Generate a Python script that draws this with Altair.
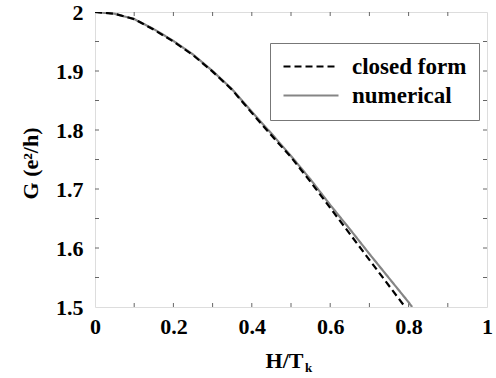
import altair as alt
import pandas as pd

# ---- data ----
x_closed = [0.0, 0.05, 0.1, 0.15, 0.2, 0.25, 0.3, 0.35, 0.4, 0.45, 0.5, 0.55, 0.6, 0.65, 0.7, 0.75, 0.791]
g_closed = [2.000, 1.997, 1.988, 1.970, 1.950, 1.927, 1.899, 1.868, 1.829, 1.791, 1.754, 1.712, 1.668, 1.624, 1.580, 1.536, 1.500]

x_num = [0.0, 0.05, 0.1, 0.15, 0.2, 0.25, 0.3, 0.35, 0.4, 0.45, 0.5, 0.55, 0.6, 0.65, 0.7, 0.75, 0.8, 0.809]
g_num = [2.000, 1.997, 1.988, 1.971, 1.951, 1.928, 1.900, 1.869, 1.831, 1.794, 1.756, 1.716, 1.673, 1.632, 1.590, 1.549, 1.508, 1.500]

series_names = ["closed form", "numerical"]

x_tick_labels = [0, 0.2, 0.4, 0.6, 0.8, 1]
y_tick_labels = [1.5, 1.6, 1.7, 1.8, 1.9, 2.0]
x_minor = [0.1, 0.2, 0.3, 0.4, 0.5, 0.6, 0.7, 0.8, 0.9]
y_minor = [1.55, 1.6, 1.65, 1.7, 1.75, 1.8, 1.85, 1.9, 1.95]

W, H = 392, 295
FONT = "Liberation Serif"

df = pd.concat([
    pd.DataFrame({"x": x_num, "g": g_num, "series": series_names[1], "o": range(len(x_num))}),
    pd.DataFrame({"x": x_closed, "g": g_closed, "series": series_names[0], "o": range(len(x_closed))}),
], ignore_index=True)

xscale = alt.Scale(domain=[0, 1], nice=False, zero=False)
yscale = alt.Scale(domain=[1.5, 2.0], nice=False, zero=False)

legend_kw = dict(title=None, orient="none", legendX=175, legendY=31,
                 symbolType="stroke", symbolSize=3025, symbolStrokeWidth=2.2,
                 labelFont=FONT, labelFontWeight="bold", labelFontSize=23,
                 labelColor="black", labelOffset=12, rowPadding=5, clipHeight=23,
                 padding=12, strokeColor="#777", fillColor="white", labelLimit=300)

lines = alt.Chart(df).mark_line(strokeWidth=2.2, clip=True).encode(
    x=alt.X("x:Q", scale=xscale,
            axis=alt.Axis(values=x_tick_labels, format="~g", ticks=False, domain=False, grid=False,
                          labelFont=FONT, labelFontWeight="bold", labelFontSize=22, labelColor="black",
                          labelPadding=9, labelFlush=False,
                          title="H/T", titleFont=FONT, titleFontWeight="bold", titleFontSize=22,
                          titleColor="black", titleX=189, titleY=60, titleBaseline="alphabetic",
                          titleAnchor="start", titleAlign="center")),
    y=alt.Y("g:Q", scale=yscale,
            axis=alt.Axis(values=y_tick_labels, format="~g", ticks=False, domain=False, grid=False,
                          labelFont=FONT, labelFontWeight="bold", labelFontSize=22, labelColor="black",
                          labelPadding=12, labelFlush=False,
                          title="G (e²/h)", titleFont=FONT, titleFontWeight="bold", titleFontSize=22,
                          titleColor="black", titleX=-65, titleY=151, titleAngle=270,
                          titleBaseline="middle", titleAlign="center", titleAnchor="start")),
    color=alt.Color("series:N", scale=alt.Scale(domain=series_names, range=["black", "#858585"]),
                    legend=alt.Legend(**legend_kw)),
    strokeDash=alt.StrokeDash("series:N", scale=alt.Scale(domain=series_names, range=[[7, 4], [1, 0]]),
                              legend=alt.Legend(**legend_kw)),
    order="o:Q",
)

tick_color = "#666"
xt = pd.DataFrame({"x": x_minor})
yt = pd.DataFrame({"g": y_minor})

bottom_ticks = alt.Chart(xt).mark_rule(color=tick_color, strokeWidth=1).encode(
    x=alt.X("x:Q", scale=xscale), y=alt.value(H), y2=alt.value(H - 4))
top_ticks = alt.Chart(xt).mark_rule(color=tick_color, strokeWidth=1).encode(
    x=alt.X("x:Q", scale=xscale), y=alt.value(0), y2=alt.value(4))
left_ticks = alt.Chart(yt).mark_rule(color=tick_color, strokeWidth=1).encode(
    y=alt.Y("g:Q", scale=yscale), x=alt.value(0), x2=alt.value(4))
right_ticks = alt.Chart(yt).mark_rule(color=tick_color, strokeWidth=1).encode(
    y=alt.Y("g:Q", scale=yscale), x=alt.value(W), x2=alt.value(W - 4))

sub_k = alt.Chart(pd.DataFrame({"t": ["k"]})).mark_text(
    font=FONT, fontWeight="bold", fontSize=13, align="left", baseline="alphabetic", color="black"
).encode(text="t:N", x=alt.value(210), y=alt.value(360))

chart = alt.layer(bottom_ticks, top_ticks, left_ticks, right_ticks, lines, sub_k).properties(
    width=W, height=H,
    autosize=alt.AutoSizeParams(type="none"),
    padding={"left": 95, "top": 12, "right": 9, "bottom": 71},
).configure_view(stroke="#666", strokeWidth=1.2).configure(background="white")

chart.save("out.html", embed_options={"renderer": "svg", "actions": False})
